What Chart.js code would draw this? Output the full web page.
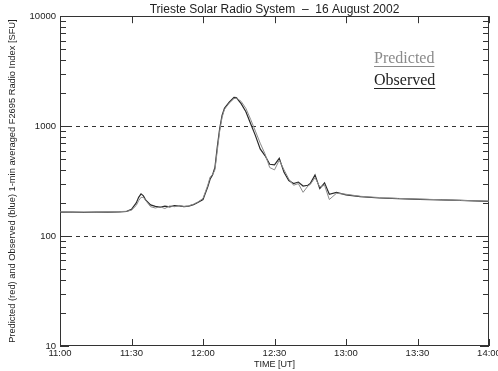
<!DOCTYPE html>
<html>
<head>
<meta charset="utf-8">
<script src="https://cdn.jsdelivr.net/npm/chart.js@4.4.1/dist/chart.umd.min.js"></script>
<style>
  html, body { margin: 0; padding: 0; background: #fff; }
</style>
</head>
<body>
<canvas id="myChart" width="498" height="371"></canvas>
<script>
// minutes after 11:00 UT
const minutes = [0, 5, 10, 15, 20, 25, 28, 30, 32, 33, 34, 35, 36, 38, 40, 42, 44, 46, 48, 50,
  52, 54, 56, 58, 60, 62, 63, 64, 65, 66, 67, 68, 69, 71, 73, 74, 76, 78, 80, 82,
  84, 86, 88, 90, 92, 94, 96, 98, 100, 102, 104, 105, 107, 109, 111, 113, 116, 120, 126, 134,
  142, 151, 160, 168, 180];

const observed = [165, 165, 164, 165, 165, 166, 168, 175, 200, 225, 242, 232, 212, 192, 186, 183, 187, 184, 189, 188,
  185, 187, 193, 203, 215, 280, 330, 360, 420, 650, 950, 1250, 1450, 1650, 1830, 1820, 1600, 1350, 1050, 820,
  620, 540, 450, 445, 510, 380, 320, 300, 310, 285, 290, 300, 360, 270, 305, 240, 250, 237, 228, 222,
  219, 216, 213, 211, 207];

const predicted = [166, 165, 165, 165, 166, 167, 168, 172, 190, 210, 225, 225, 210, 185, 180, 185, 178, 188, 185, 190,
  186, 188, 195, 205, 220, 290, 345, 360, 400, 600, 900, 1200, 1420, 1620, 1780, 1800, 1680, 1450, 1150, 900,
  700, 560, 420, 400, 490, 400, 330, 290, 300, 250, 285, 295, 340, 280, 290, 215, 245, 240, 230, 224,
  220, 217, 214, 211, 208];

const xTicks = [0, 30, 60, 90, 120, 150, 180];
const yTicks = [10, 100, 1000, 10000];
const refLevels = [100, 1000];

const legendItems = [
  { label: 'Predicted', color: '#8a8a8a' },
  { label: 'Observed', color: '#222222' }
];

function timeLabel(m) {
  const h = 11 + Math.floor(m / 60);
  const mm = m % 60;
  return h + ':' + (mm < 10 ? '0' : '') + mm;
}

// box, inward ticks, dashed reference lines, text legend
const frame = {
  id: 'frame',
  beforeDatasetsDraw(chart) {
    const { ctx, chartArea: a, scales: { x, y } } = chart;
    ctx.save();
    ctx.strokeStyle = '#333';
    ctx.lineWidth = 1;

    ctx.setLineDash([4, 4]);
    refLevels.forEach(v => {
      const py = Math.round(y.getPixelForValue(v)) + 0.5;
      ctx.beginPath();
      ctx.moveTo(a.left, py);
      ctx.lineTo(a.right, py);
      ctx.stroke();
    });
    ctx.setLineDash([]);

    ctx.beginPath();
    // x ticks top and bottom
    xTicks.forEach(t => {
      const px = Math.round(x.getPixelForValue(t)) + 0.5;
      ctx.moveTo(px, a.bottom);
      ctx.lineTo(px, a.bottom - 7);
      ctx.moveTo(px, a.top);
      ctx.lineTo(px, a.top + 7);
    });
    // y ticks left and right
    for (let d = 10; d < 10000; d *= 10) {
      for (let k = 1; k < 10; k++) {
        const py = Math.round(y.getPixelForValue(d * k)) + 0.5;
        const len = k === 1 ? 9 : 6;
        ctx.moveTo(a.left, py);
        ctx.lineTo(a.left + len, py);
        ctx.moveTo(a.right, py);
        ctx.lineTo(a.right - len, py);
      }
    }
    ctx.stroke();

    ctx.strokeRect(Math.round(a.left) + 0.5, Math.round(a.top) + 0.5,
      Math.round(a.right - a.left) - 1, Math.round(a.bottom - a.top) - 1);
    ctx.restore();
  },
  afterDraw(chart) {
    const { ctx } = chart;
    ctx.save();
    ctx.font = '16px "Liberation Serif", serif';
    ctx.textBaseline = 'alphabetic';
    legendItems.forEach((item, i) => {
      const lx = 374, ly = 63 + i * 22;
      const w = ctx.measureText(item.label).width;
      ctx.fillStyle = item.color;
      ctx.fillText(item.label, lx, ly);
      ctx.strokeStyle = item.color;
      ctx.lineWidth = 1;
      ctx.beginPath();
      ctx.moveTo(lx, ly + 3.5);
      ctx.lineTo(lx + w, ly + 3.5);
      ctx.stroke();
    });
    ctx.restore();
  }
};

const ctx = document.getElementById('myChart').getContext('2d');
const myChart = new Chart(ctx, {
  type: 'line',
  data: {
    datasets: [{
      label: 'Predicted',
      data: minutes.map((m, i) => ({ x: m, y: predicted[i] })),
      borderColor: '#8a8a8a',
      borderWidth: 1,
      pointRadius: 0,
      tension: 0
    }, {
      label: 'Observed',
      data: minutes.map((m, i) => ({ x: m, y: observed[i] })),
      borderColor: '#2a2a2a',
      borderWidth: 1.2,
      pointRadius: 0,
      tension: 0
    }]
  },
  options: {
    responsive: false,
    animation: false,
    layout: { padding: { left: 0, right: 9, top: 0, bottom: 0 } },
    plugins: {
      legend: { display: false },
      tooltip: { enabled: false },
      title: {
        display: true,
        fullSize: false,
        text: 'Trieste Solar Radio System  \u2013  16 August 2002',
        color: '#222',
        font: { family: '"Liberation Sans", Arial, sans-serif', size: 12, weight: 'normal', lineHeight: 1.1 },
        padding: { top: 3, bottom: 0 }
      }
    },
    scales: {
      x: {
        type: 'linear',
        min: 0,
        max: 180,
        grid: { display: false, drawTicks: false },
        border: { display: false },
        afterBuildTicks: s => { s.ticks = xTicks.map(v => ({ value: v })); },
        afterFit: s => { s.height = 25; s.paddingLeft = 0; s.paddingRight = 0; },
        ticks: {
          autoSkip: false,
          maxRotation: 0,
          padding: 2,
          color: '#222',
          font: { family: '"Liberation Sans", Arial, sans-serif', size: 9.5 },
          callback: v => timeLabel(v)
        },
        title: {
          display: true,
          text: 'TIME [UT]',
          color: '#222',
          font: { family: '"Liberation Sans", Arial, sans-serif', size: 9 },
          padding: { top: 0, bottom: 1 }
        }
      },
      y: {
        type: 'logarithmic',
        min: 10,
        max: 10000,
        grid: { display: false, drawTicks: false },
        border: { display: false },
        afterBuildTicks: s => { s.ticks = yTicks.map(v => ({ value: v })); },
        afterFit: s => { s.width = 60; },
        ticks: {
          padding: 4,
          color: '#222',
          font: { family: '"Liberation Sans", Arial, sans-serif', size: 9.5 },
          callback: v => String(v)
        },
        title: {
          display: true,
          text: 'Predicted (red) and Observed (blue) 1-min averaged F2695 Radio Index [SFU]',
          color: '#222',
          font: { family: '"Liberation Sans", Arial, sans-serif', size: 9.3 },
          padding: { top: 7, bottom: 0 }
        }
      }
    }
  },
  plugins: [frame]
});
</script>
</body>
</html>
